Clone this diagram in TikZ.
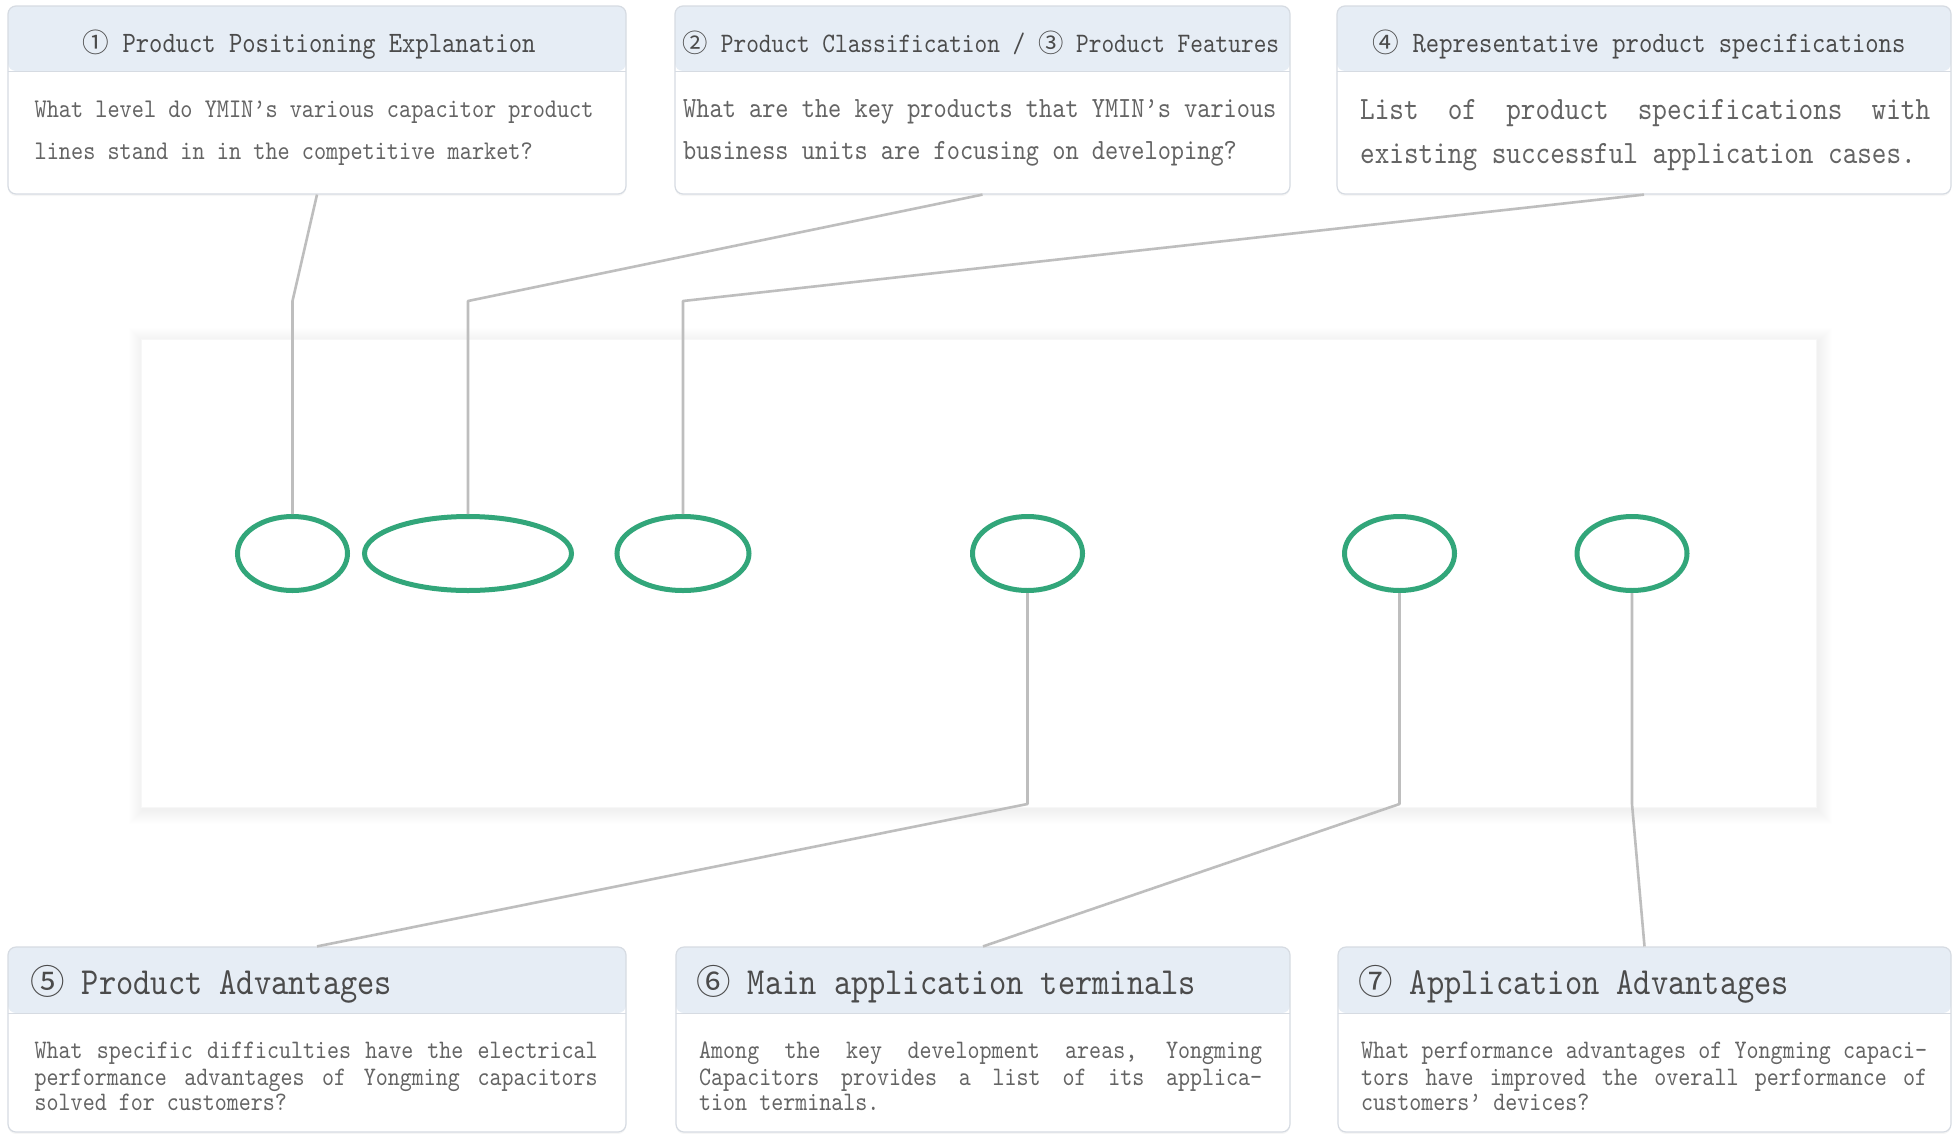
\documentclass[tikz,border=0pt]{standalone}
\usepackage{fontspec}
\usetikzlibrary{shapes.geometric,shadows}
\newfontfamily\monof{lmmono10-regular.otf}[FakeStretch=0.857]
\newfontfamily\cjkc{Noto Sans CJK SC}[Scale=0.9]
\definecolor{hdr}{RGB}{230,237,245}
\definecolor{bordc}{RGB}{214,219,226}
\definecolor{titc}{RGB}{75,75,75}
\definecolor{bodc}{RGB}{100,100,100}
\definecolor{linkc}{RGB}{190,190,190}
\definecolor{grn}{RGB}{50,166,122}
\newcommand\jline[2]{\hbox to #1{\spaceskip=\fontdimen2\font plus 1fil\relax #2}}
\begin{document}
\begin{tikzpicture}[x=1pt,y=-1pt,
  qbox/.style={draw=bordc, fill=white, rounded corners=8pt, line width=1.2pt, inner sep=0pt,
    drop shadow={opacity=0.07, shadow xshift=0pt, shadow yshift=-2pt},
    path picture={\fill[hdr] (path picture bounding box.north west) rectangle ([yshift=-#1]path picture bounding box.north east);
      \draw[bordc, line width=1pt] ([yshift=-#1]path picture bounding box.north west) -- ([yshift=-#1]path picture bounding box.north east);}},
  ttop/.style={text=titc, inner sep=0pt, anchor=base},
  tbot/.style={text=titc, inner sep=0pt, anchor=base west, font=\monof\fontsize{38.3}{46}\selectfont},
  btxt/.style={text=bodc, inner sep=0pt, anchor=base west},
  capsule/.style={ellipse, draw=grn, line width=5pt, fill=white, inner sep=0pt, minimum height=74pt},
  link/.style={draw=linkc, line width=2.6pt, line join=round}
]
\fill[white] (0,0) rectangle (1952,1133);
\useasboundingbox (0,0) rectangle (1952,1133);

% central panel with soft shadow
\foreach \i in {1,...,14}{\fill[black,opacity=0.004] (141-\i+2,339-\i+3) rectangle (1816+\i+2,807+\i+3);}
\node[fill=white, draw=black!3, line width=0.6pt, minimum width=1675pt, minimum height=468pt, inner sep=0pt] (R) at (978.5,573) {};

% top boxes
\node[qbox=65pt, minimum width=618pt, minimum height=188pt] (B1) at (317,100) {};
\node[qbox=65pt, minimum width=615pt, minimum height=188pt] (B2) at (982.5,100) {};
\node[qbox=65pt, minimum width=614pt, minimum height=188pt] (B3) at (1644,100) {};
% bottom boxes
\node[qbox=66pt, minimum width=618pt, minimum height=185pt] (B5) at (317,1039.5) {};
\node[qbox=66pt, minimum width=614pt, minimum height=185pt] (B6) at (983,1039.5) {};
\node[qbox=66pt, minimum width=613pt, minimum height=185pt] (B7) at (1644.5,1039.5) {};

% titles
\node[ttop, font=\monof\fontsize{29.6}{36}\selectfont] (T1) at (309,52) {{\cjkc ①} Product Positioning Explanation};
\node[ttop, font=\monof\fontsize{28.2}{36}\selectfont] (T2) at (981,52) {{\cjkc ②} Product Classification / {\cjkc ③} Product Features};
\node[ttop, font=\monof\fontsize{29.6}{36}\selectfont] (T3) at (1639,52) {{\cjkc ④} Representative product specifications};
\node[tbot] (T5) at (30,994) {{\cjkc ⑤} Product Advantages};
\node[tbot] (T6) at (696,994) {{\cjkc ⑥} Main application terminals};
\node[tbot] (T7) at (1358,994) {{\cjkc ⑦} Application Advantages};

% body texts, top
\begin{scope}[btxt/.append style={font=\monof\fontsize{27}{42}\selectfont}]
\node[btxt] (b1a) at (34.5,117) {What level do YMIN’s various capacitor product};
\node[btxt] (b1b) at (34.5,159) {lines stand in in the competitive market?};
\end{scope}
\begin{scope}[btxt/.append style={font=\monof\fontsize{29.3}{42}\selectfont}]
\node[btxt] (b2a) at (683,117) {What are the key products that YMIN’s various};
\node[btxt] (b2b) at (683,159) {business units are focusing on developing?};
\end{scope}
\begin{scope}[btxt/.append style={font=\monof\fontsize{32.5}{42}\selectfont}]
\node[btxt] (b3a) at (1360,119) {\jline{570pt}{List of product specifications with}};
\node[btxt] (b3b) at (1360,163) {existing successful application cases.};
\end{scope}

% body texts, bottom
\begin{scope}[btxt/.append style={font=\monof\fontsize{26.7}{30}\selectfont}]
\node[btxt] (b5a) at (34.5,1058) {\jline{563pt}{What specific difficulties have the electrical}};
\node[btxt] (b5b) at (34.5,1085) {\jline{563pt}{performance advantages of Yongming capacitors}};
\node[btxt] (b5c) at (34.5,1110) {solved for customers?};
\node[btxt] (b6a) at (699,1058) {\jline{563pt}{Among the key development areas, Yongming}};
\node[btxt] (b6b) at (699,1085) {\jline{563pt}{Capacitors provides a list of its applica-}};
\node[btxt] (b6c) at (699,1110) {tion terminals.};
\node[btxt] (b7a) at (1361,1058) {\jline{566pt}{What performance advantages of Yongming capaci-}};
\node[btxt] (b7b) at (1361,1085) {\jline{566pt}{tors have improved the overall performance of}};
\node[btxt] (b7c) at (1361,1110) {customers’ devices?};
\end{scope}

% capsules
\node[capsule, minimum width=110pt] (E1) at (292.5,553.5) {};
\node[capsule, minimum width=207pt] (E2) at (468,553.5) {};
\node[capsule, minimum width=132pt] (E3) at (683,553.5) {};
\node[capsule, minimum width=110pt] (E4) at (1027.5,553.5) {};
\node[capsule, minimum width=110pt] (E5) at (1399.5,553.5) {};
\node[capsule, minimum width=110pt] (E6) at (1632,553.5) {};

% connectors
\draw[link] (B1.south) -- (E1.north |- 0,301) -- (E1.north);
\draw[link] (B2.south) -- (E2.north |- 0,301) -- (E2.north);
\draw[link] (B3.south) -- (E3.north |- 0,301) -- (E3.north);
\draw[link] (E4.south) -- (E4.south |- 0,804) -- (B5.north);
\draw[link] (E5.south) -- (E5.south |- 0,804) -- (B6.north);
\draw[link] (E6.south) -- (E6.south |- 0,804) -- (B7.north);
\end{tikzpicture}
\end{document}
